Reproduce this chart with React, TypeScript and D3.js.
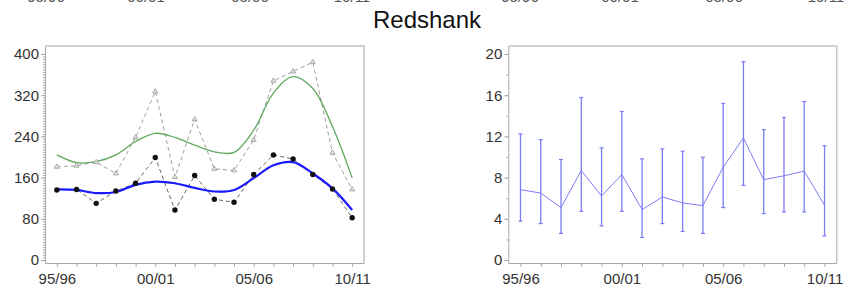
import * as d3 from "d3";
import React, { useRef, useEffect } from "react";

// seasons 95/96 .. 10/11
const seasons = ["95/96","96/97","97/98","98/99","99/00","00/01","01/02","02/03","03/04","04/05","05/06","06/07","07/08","08/09","09/10","10/11"];
const tickSeasons = ["95/96", "00/01", "05/06", "10/11"];

// left panel: counts
const peakCounts = [181, 183, 190, 168, 238, 327, 161, 273, 177, 174, 233, 348, 366, 384, 208, 137];
const meanCounts = [136, 137, 110, 134, 149, 199, 97, 164, 118, 112, 166, 204, 196, 166, 138, 82];
const peakSmooth = [204, 189, 191, 204, 230, 246, 238, 223, 210, 209, 252, 324, 356, 333, 259, 159];
const meanSmooth = [137, 136, 130, 132, 146, 152, 149, 140, 133, 136, 159, 184, 190, 168, 139, 97];

// right panel: index with confidence limits
const idxMean = [6.83, 6.5, 5.09, 8.69, 6.21, 8.31, 4.9, 6.12, 5.54, 5.28, 9.01, 11.85, 7.8, 8.18, 8.63, 5.31];
const idxUpper = [12.24, 11.69, 9.76, 15.78, 10.89, 14.42, 9.82, 10.79, 10.56, 9.98, 15.2, 19.25, 12.65, 13.84, 15.39, 11.1];
const idxLower = [3.77, 3.54, 2.58, 4.73, 3.31, 4.73, 2.19, 3.54, 2.77, 2.58, 5.09, 7.25, 4.51, 4.67, 4.67, 2.35];

const leftTicks = [0, 80, 160, 240, 320, 400];
const rightTicks = [0, 4, 8, 12, 16, 20];

// clipped tick labels of the panel row above
const aboveLabelX = [46, 146, 250, 352, 520, 620, 724, 826];

const W = 848;
const H = 296;
const AXIS = "#a8a8a8";
const FONT = "'Liberation Sans', Arial, sans-serif";

const App = () => {
  const svgRef = useRef<SVGSVGElement>(null);

  useEffect(() => {
    const svg = d3.select(svgRef.current);
    svg.selectAll("*").remove();

    svg.append("text")
      .attr("x", 427).attr("y", 28)
      .attr("text-anchor", "middle")
      .attr("font-family", FONT).attr("font-size", 24)
      .attr("fill", "#111")
      .text("Redshank");

    svg.selectAll(".above").data(aboveLabelX).enter().append("text")
      .attr("x", (d) => d).attr("y", 2)
      .attr("text-anchor", "middle")
      .attr("font-family", FONT).attr("font-size", 15)
      .attr("fill", "#555")
      .text((d, i) => tickSeasons[i % 4]);

    const panel = (x0: number, x1: number, yMax: number, yMin: number, ticks: number[], minorStep: number) => {
      const x = d3.scaleLinear().domain([-0.6, 15.6]).range([x0, x1]);
      const y = d3.scaleLinear().domain([yMin, yMax]).range([263, 46]);
      const g = svg.append("g");

      // frame top/right
      g.append("path")
        .attr("d", `M${x0},46H${x1}V263`)
        .attr("fill", "none").attr("stroke", "#c4c4c4").attr("stroke-width", 1.5);

      // minor y ticks
      const minor = d3.range(0, ticks[ticks.length - 1] + 0.001, minorStep);
      const yMinor = g.append("g").attr("transform", `translate(${x0},0)`)
        .call(d3.axisLeft(y).tickValues(minor).tickSize(2).tickFormat(() => ""));
      yMinor.select(".domain").remove();
      yMinor.selectAll("line").attr("stroke", AXIS);

      const yAx = g.append("g").attr("transform", `translate(${x0},0)`)
        .call(d3.axisLeft(y).tickValues(ticks).tickSize(4).tickPadding(2).tickSizeOuter(0));
      yAx.select(".domain").attr("stroke", AXIS);
      yAx.selectAll("line").attr("stroke", AXIS);
      yAx.selectAll("text").attr("font-family", FONT).attr("font-size", 15).attr("fill", "#333");

      const xAx = g.append("g").attr("transform", "translate(0,263)")
        .call(d3.axisBottom(x).tickValues(d3.range(seasons.length)).tickSize(4).tickPadding(6).tickSizeOuter(0)
          .tickFormat((d) => (tickSeasons.includes(seasons[d as number]) ? seasons[d as number] : "")));
      xAx.select(".domain").attr("stroke", AXIS);
      xAx.selectAll("line").attr("stroke", AXIS);
      xAx.selectAll("text").attr("font-family", FONT).attr("font-size", 15).attr("fill", "#333");

      return { g, x, y };
    };

    // left panel
    {
      const { g, x, y } = panel(45, 364, 415.5, -5.8, leftTicks, 5);
      const line = d3.line<number>().x((d, i) => x(i)).y((d) => y(d));
      const smooth = d3.line<number>().x((d, i) => x(i)).y((d) => y(d)).curve(d3.curveCatmullRom);

      g.append("path").datum(peakCounts).attr("d", line)
        .attr("fill", "none").attr("stroke", "#a0a0a0").attr("stroke-width", 1).attr("stroke-dasharray", "4,3");
      g.append("path").datum(meanCounts).attr("d", line)
        .attr("fill", "none").attr("stroke", "#666").attr("stroke-width", 1).attr("stroke-dasharray", "4,3");

      g.append("path").datum(peakSmooth).attr("d", smooth)
        .attr("fill", "none").attr("stroke", "#5fa85f").attr("stroke-width", 1.3);
      g.append("path").datum(meanSmooth).attr("d", smooth)
        .attr("fill", "none").attr("stroke", "#1a1aff").attr("stroke-width", 2.2);

      g.selectAll(".tri").data(peakCounts).enter().append("path")
        .attr("d", d3.symbol(d3.symbolTriangle, 11))
        .attr("transform", (d, i) => `translate(${x(i)},${y(d)})`)
        .attr("fill", "#e4e4e4").attr("stroke", "#999").attr("stroke-width", 0.8);

      g.selectAll(".dot").data(meanCounts).enter().append("circle")
        .attr("cx", (d, i) => x(i)).attr("cy", (d) => y(d)).attr("r", 2.7)
        .attr("fill", "#111");
    }

    // right panel
    {
      const { g, x, y } = panel(508.3, 836.7, 20.78, -0.29, rightTicks, 2);
      const col = "#7c7cf6";
      const bars = g.append("g");
      idxMean.forEach((m, i) => {
        const cx = x(i);
        bars.append("line").attr("x1", cx).attr("x2", cx).attr("y1", y(idxLower[i])).attr("y2", y(idxUpper[i]))
          .attr("stroke", col).attr("stroke-width", 1.3);
        [idxLower[i], idxUpper[i]].forEach((v) => {
          bars.append("line").attr("x1", cx - 2).attr("x2", cx + 2).attr("y1", y(v)).attr("y2", y(v))
            .attr("stroke", col).attr("stroke-width", 1.2);
        });
      });
      g.append("path").datum(idxMean)
        .attr("d", d3.line<number>().x((d, i) => x(i)).y((d) => y(d)))
        .attr("fill", "none").attr("stroke", col).attr("stroke-width", 1);
    }
  }, []);

  return (
    <svg ref={svgRef} width={W} height={H} viewBox={`0 0 ${W} ${H}`}
      style={{ position: "absolute", left: 0, top: 0, background: "#fff" }} />
  );
};

export default App;
